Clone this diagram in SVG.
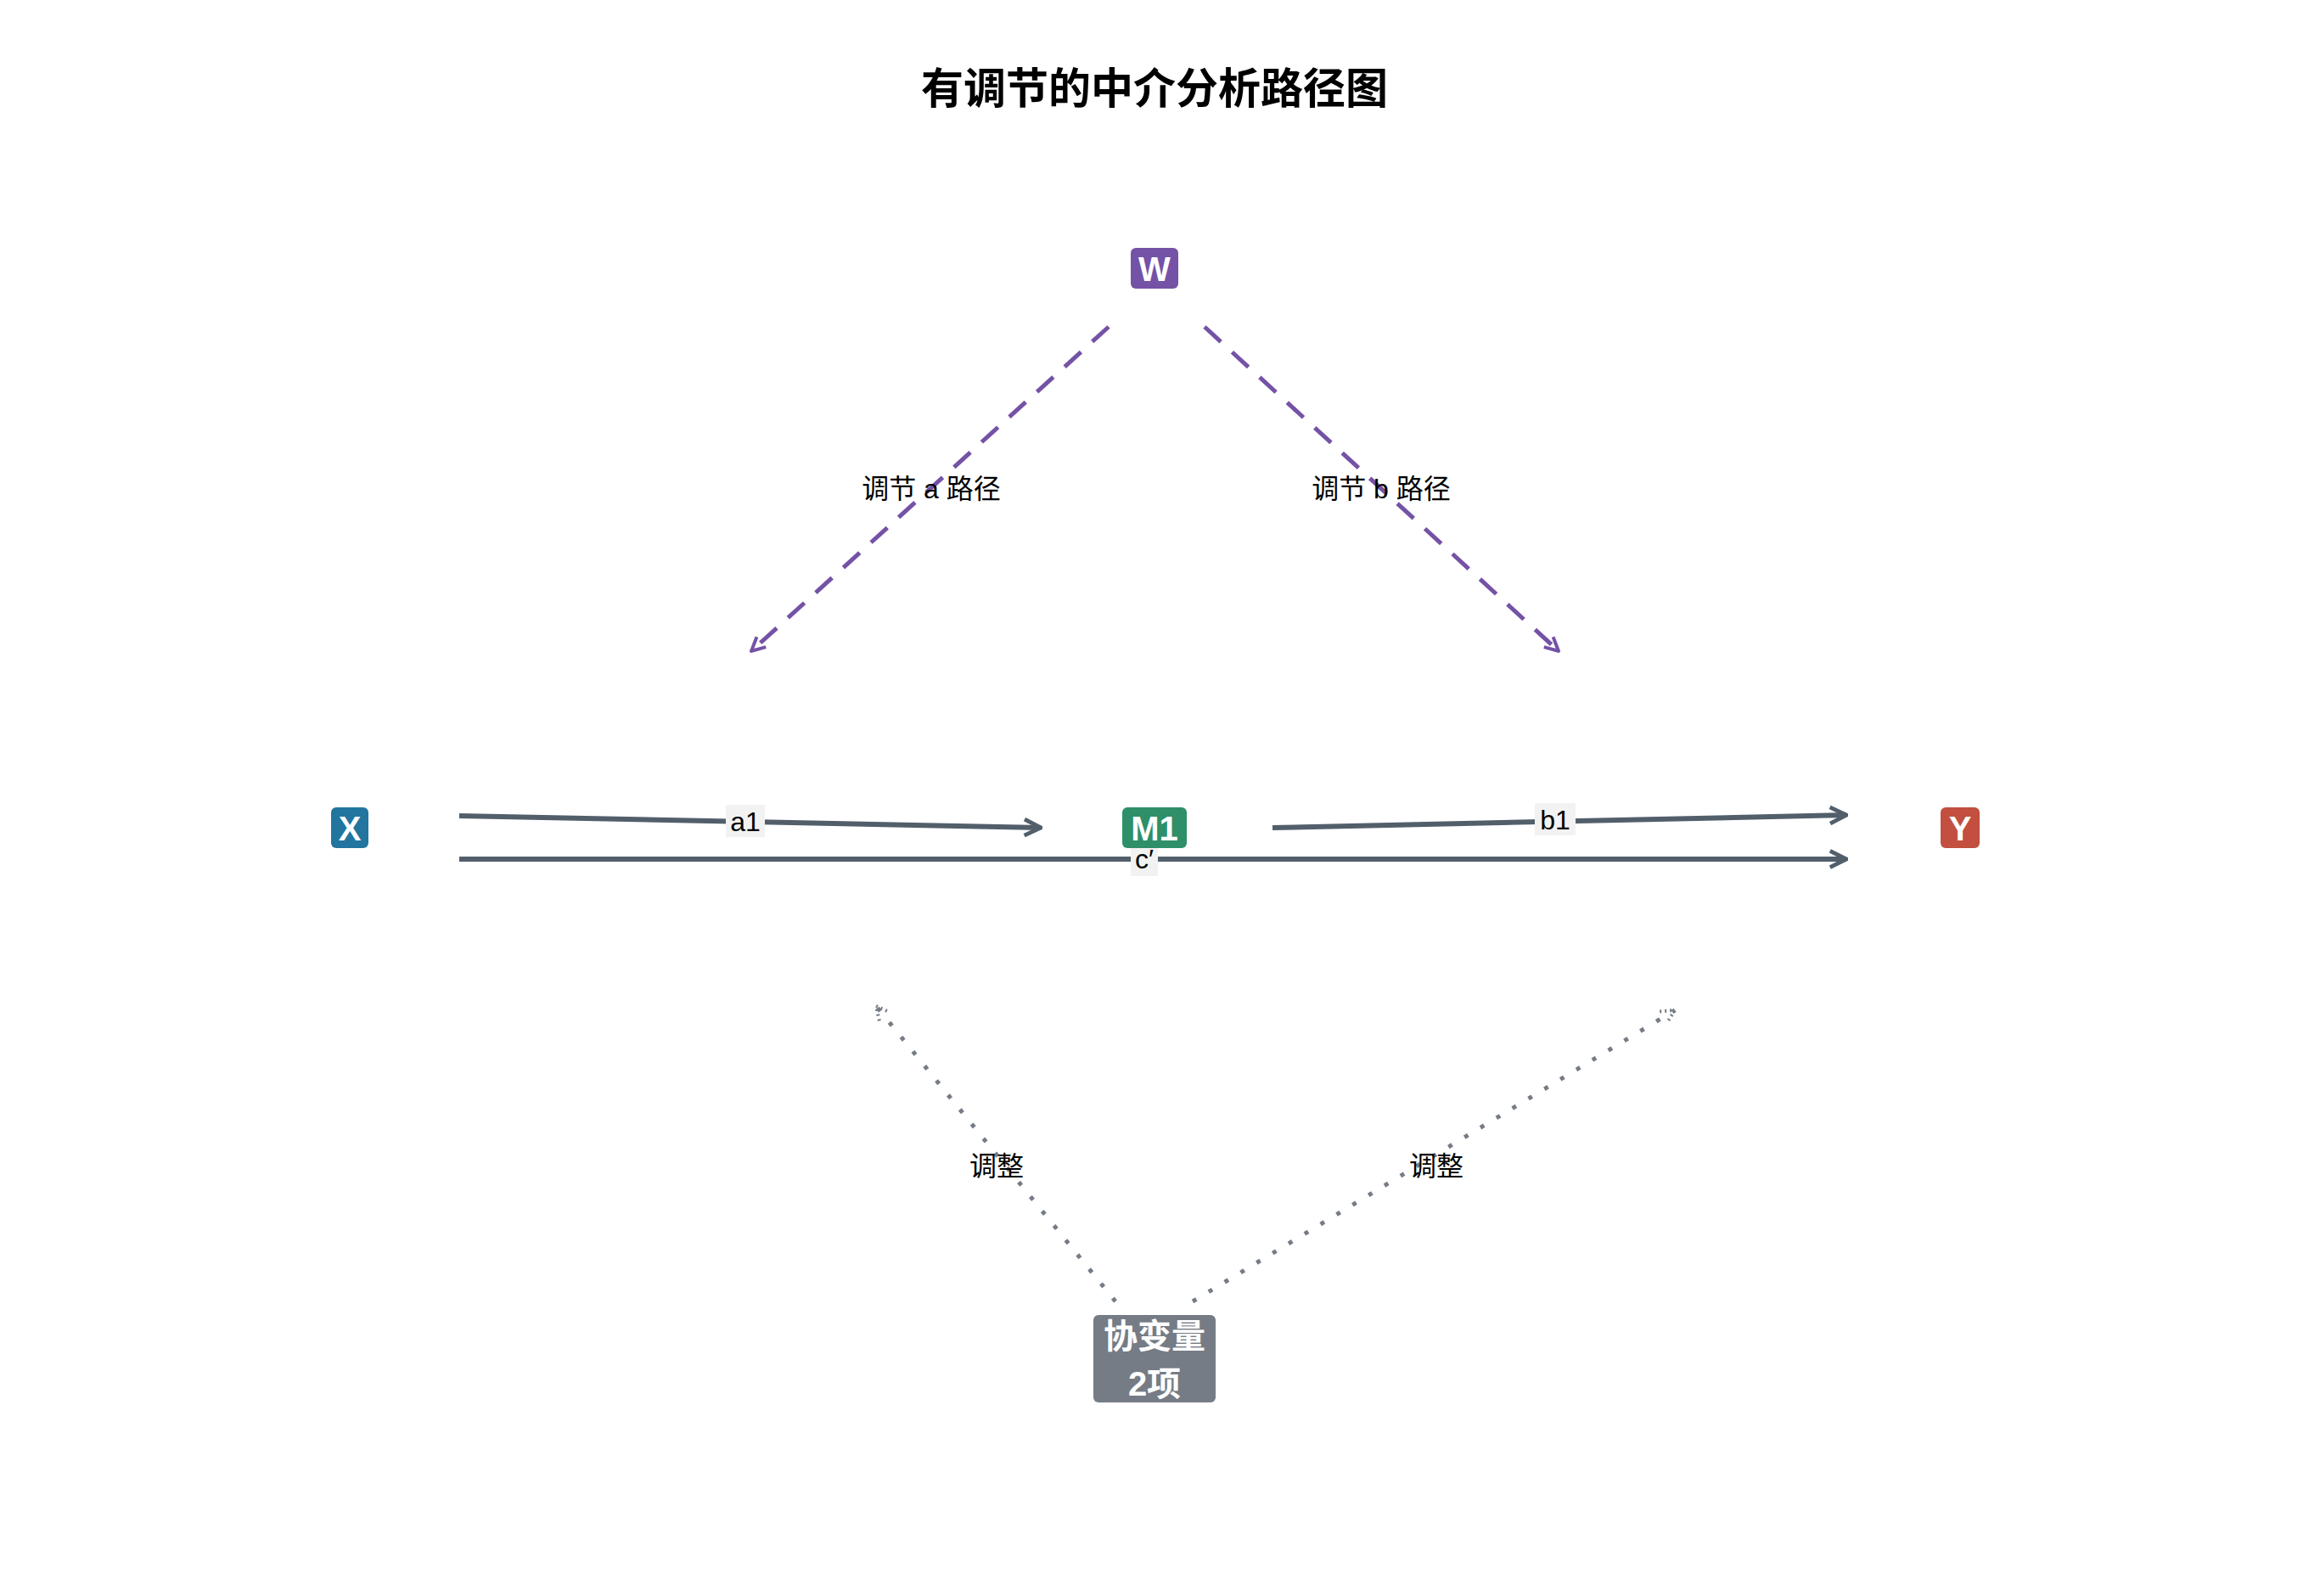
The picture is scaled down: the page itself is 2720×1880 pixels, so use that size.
<svg xmlns="http://www.w3.org/2000/svg" width="2720" height="1880" viewBox="0 0 2720 1880">
<style>
text{font-family:"Liberation Sans","Noto Sans CJK SC",sans-serif;text-anchor:middle;dominant-baseline:central}
.nt{fill:#fff;font-weight:bold;font-size:40px}
.el{fill:#000;font-size:32px}
.lb{fill:#f2f2f2}
.main{stroke:#525f6b;stroke-width:6;fill:none;marker-end:url(#ah)}
.mod{stroke:#7452a6;stroke-width:5;fill:none;stroke-dasharray:26 18;marker-end:url(#ahw)}
.cov{stroke:#757c85;stroke-width:5;fill:none;stroke-dasharray:5 17;marker-end:url(#ahc)}
</style>
<defs>
<marker id="ah" viewBox="0 0 10 10" refX="9" refY="5" markerWidth="4" markerHeight="4" orient="auto"><path d="M1,1 L9,5 L1,9" fill="none" stroke="#525f6b" stroke-width="2"/></marker>
<marker id="ahw" viewBox="0 0 10 10" refX="9" refY="5" markerWidth="4" markerHeight="4" orient="auto"><path d="M1,1 L9,5 L1,9" fill="none" stroke="#7452a6" stroke-width="2"/></marker>
<marker id="ahc" viewBox="0 0 10 10" refX="9" refY="5" markerWidth="4" markerHeight="4" orient="auto"><path d="M1,1 L9,5 L1,9" fill="none" stroke="#757c85" stroke-width="2" stroke-dasharray="1 2"/></marker>
</defs>
<rect width="2720" height="1880" fill="#fff"/>
<text x="1360" y="105" font-size="50" font-weight="bold" fill="#000">有调节的中介分析路径图</text>
<g id="edges">
<path class="main" d="M541,961 L1226,975"/>
<path class="main" d="M1499,975 L2175,960"/>
<path class="main" d="M541,1012 L2175,1012"/>
<path class="mod" d="M1306,385 L885,767"/>
<path class="mod" d="M1419,385 L1836,767"/>
<path class="cov" d="M1314,1533 L1032,1185"/>
<path class="cov" d="M1405,1533 L1973,1190"/>
<rect class="lb" x="855" y="948" width="46" height="38"/><text class="el" x="878" y="968">a1</text>
<rect class="lb" x="1808" y="946" width="48" height="38"/><text class="el" x="1832" y="966">b1</text>
<rect class="lb" x="1332" y="994" width="32" height="38"/><text class="el" x="1348" y="1012">c′</text>
<text class="el" x="1097" y="576">调节 a 路径</text>
<text class="el" x="1627" y="576">调节 b 路径</text>
<text class="el" x="1174" y="1374">调整</text>
<text class="el" x="1692" y="1374">调整</text>
</g>
<g id="W"><rect x="1332" y="292" width="56" height="48" rx="6" fill="#7452a6"/><text class="nt" x="1360" y="317">W</text></g>
<g id="X"><rect x="390" y="951" width="44" height="48" rx="6" fill="#21759e"/><text class="nt" x="412" y="976">X</text></g>
<g id="M1"><rect x="1322" y="951" width="76" height="48" rx="6" fill="#2e8f68"/><text class="nt" x="1360" y="976">M1</text></g>
<g id="Y"><rect x="2286" y="951" width="46" height="48" rx="6" fill="#c24f3f"/><text class="nt" x="2309" y="976">Y</text></g>
<g id="COV"><rect x="1288" y="1549" width="144" height="103" rx="6" fill="#757c85"/><text class="nt" x="1360" y="1574">协变量</text><text class="nt" x="1360" y="1630">2项</text></g>
</svg>
